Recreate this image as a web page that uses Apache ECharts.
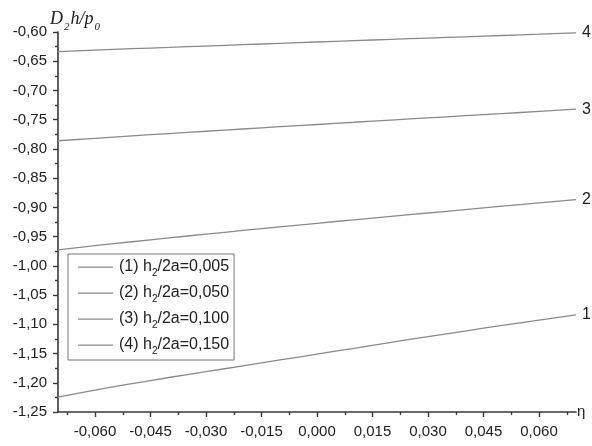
<!DOCTYPE html>
<html>
<head>
<meta charset="utf-8">
<script src="https://cdn.jsdelivr.net/npm/echarts@6/dist/echarts.min.js"></script>
<style>html,body{margin:0;padding:0;background:#fff}#c{width:592px;height:446px}</style>
</head>
<body>
<div id="c"></div>
<script>
var etaValues = [-0.07, -0.06, -0.05, -0.04, -0.03, -0.02, -0.01, 0.00, 0.01, 0.02, 0.03, 0.04, 0.05, 0.06, 0.07];
var curve1 = [-1.2245, -1.2125, -1.2015, -1.1910, -1.1810, -1.1710, -1.1610, -1.1510, -1.1410, -1.1310, -1.1210, -1.1115, -1.1020, -1.0930, -1.0840];
var curve2 = [-0.9726, -0.9655, -0.9588, -0.9522, -0.9458, -0.9395, -0.9333, -0.9272, -0.9212, -0.9153, -0.9096, -0.9039, -0.8980, -0.8924, -0.8867];
var curve3 = [-0.7860, -0.7818, -0.7777, -0.7737, -0.7698, -0.7659, -0.7620, -0.7582, -0.7544, -0.7506, -0.7469, -0.7432, -0.7395, -0.7358, -0.7320];
var curve4 = [-0.6335, -0.6310, -0.6286, -0.6263, -0.6240, -0.6217, -0.6194, -0.6171, -0.6148, -0.6126, -0.6104, -0.6082, -0.6060, -0.6038, -0.6015];
var seriesNames = ['(1) h2/2a=0,005', '(2) h2/2a=0,050', '(3) h2/2a=0,100', '(4) h2/2a=0,150'];
var endTags = ['1', '2', '3', '4'];
var xMajorTicks = [-0.060, -0.045, -0.030, -0.015, 0.000, 0.015, 0.030, 0.045, 0.060];
var xMinorTicks = [-0.0675, -0.0525, -0.0375, -0.0225, -0.0075, 0.0075, 0.0225, 0.0375, 0.0525, 0.0675];
var yMin = -1.25, yMax = -0.60, yStep = 0.05;

var curves = [curve1, curve2, curve3, curve4];
var FONT = "'Liberation Sans', Arial, sans-serif";
var AX = '#3a3a3a';
var LINE_ICON = 'path://M0,0 L0.01,0 Z M0,7.4 L35,7.4 L35,8.7 L0,8.7 Z M0,16 L0.01,16 Z';

function pairs(ys) { return etaValues.map(function (x, i) { return [x, ys[i]]; }); }

var chart = echarts.init(document.getElementById('c'), null, { renderer: 'canvas' });
chart.setOption({
  animation: false,
  backgroundColor: '#fff',
  grid: { left: 58, right: 16, top: 32, bottom: 34 },
  legend: {
    orient: 'vertical',
    left: 68, top: 254,
    padding: [5, 5, 4, 10],
    itemGap: 7,
    itemWidth: 35, itemHeight: 16,
    icon: LINE_ICON,
    borderColor: '#777', borderWidth: 1,
    backgroundColor: '#fff',
    data: seriesNames,
    formatter: function (n) { return n.replace('h2', 'h{s|2}'); },
    textStyle: {
      fontFamily: FONT, fontSize: 16, color: '#222', padding: [0, 0, 0, 1],
      rich: { s: { fontFamily: FONT, fontSize: 10, color: '#222', verticalAlign: 'bottom', lineHeight: 10, padding: [0, 0, -3, 0] } }
    }
  },
  xAxis: [{
    type: 'value', min: -0.07, max: 0.07,
    name: 'η', nameLocation: 'end', nameGap: 1, nameMoveOverlap: false,
    nameTextStyle: { fontFamily: FONT, fontSize: 15, color: '#222', verticalAlign: 'middle' },
    axisLine: { show: true, onZero: false, lineStyle: { color: AX, width: 1.6 } },
    axisTick: { show: true, length: 5, customValues: xMajorTicks, lineStyle: { color: AX, width: 1.4 } },
    axisLabel: { customValues: xMajorTicks, margin: 12, fontFamily: FONT, fontSize: 15, color: '#222',
      formatter: function (v) { return (Math.abs(v) < 1e-9 ? 0 : v).toFixed(3).replace('.', ','); } },
    splitLine: { show: false }
  }, {
    type: 'value', min: -0.07, max: 0.07, position: 'bottom',
    axisLine: { show: false, onZero: false },
    axisTick: { show: true, length: 3, customValues: xMinorTicks, lineStyle: { color: AX, width: 1.4 } },
    axisLabel: { show: false },
    splitLine: { show: false }
  }],
  yAxis: {
    type: 'value', min: yMin, max: yMax, interval: yStep,
    name: '{i|D}{s|2}{i|h/p}{s|0}', nameLocation: 'end', nameGap: 3, nameMoveOverlap: false,
    nameTextStyle: {
      align: 'left', verticalAlign: 'bottom', padding: [0, 0, 0, -8],
      rich: {
        i: { fontFamily: "'Liberation Serif', 'Times New Roman', serif", fontStyle: 'italic', fontSize: 18, color: '#222', lineHeight: 20 },
        s: { fontFamily: "'Liberation Serif', 'Times New Roman', serif", fontStyle: 'italic', fontSize: 11, color: '#222', verticalAlign: 'bottom', lineHeight: 11, padding: [0, 1, -4, 1] }
      }
    },
    axisLine: { show: true, onZero: false, lineStyle: { color: AX, width: 1.6 } },
    axisTick: { show: true, length: 5, lineStyle: { color: AX, width: 1.4 } },
    minorTick: { show: true, splitNumber: 2, length: 3, lineStyle: { color: AX, width: 1.4 } },
    axisLabel: { margin: 11, fontFamily: FONT, fontSize: 15, color: '#222',
      formatter: function (v) { return v.toFixed(2).replace('.', ','); } },
    splitLine: { show: false }
  },
  series: curves.map(function (c, i) {
    return {
      name: seriesNames[i], type: 'line', data: pairs(c), smooth: true,
      symbol: 'none', color: '#8a8a8a',
      lineStyle: { color: '#8a8a8a', width: 1.3 },
      endLabel: { show: true, formatter: endTags[i], distance: 6, fontFamily: FONT, fontSize: 16, color: '#222' }
    };
  })
});
</script>
</body>
</html>
